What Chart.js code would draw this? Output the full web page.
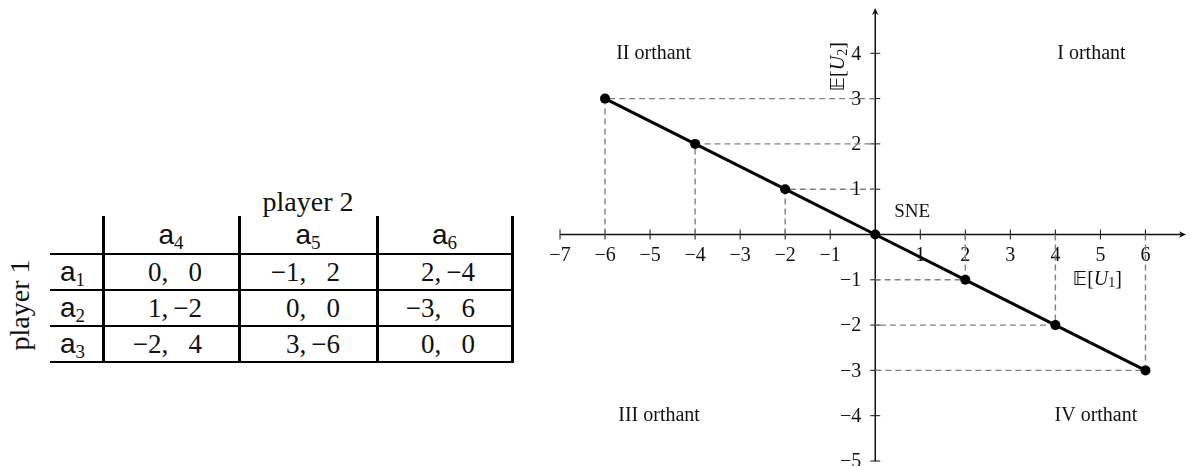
<!DOCTYPE html>
<html>
<head>
<meta charset="utf-8">
<script src="https://cdn.jsdelivr.net/npm/chart.js@4.4.1/dist/chart.umd.min.js"></script>
<style>
  html, body { margin: 0; padding: 0; background: #fff; overflow: hidden; }
  body { width: 1191px; height: 466px; position: relative; font-family: 'Liberation Serif', serif; color: #111; }
  .p2 { position: absolute; left: 208px; top: 184px; width: 200px; line-height: 36px; text-align: center; font-size: 28px; }
  .p1 { position: absolute; left: -80px; top: 287px; width: 200px; line-height: 36px; text-align: center; font-size: 28px; transform: rotate(-90deg); }
  .cell { position: absolute; white-space: nowrap; font-size: 27px; }
  .act { font-family: 'Liberation Sans', sans-serif; font-size: 28px; text-align: center; }
  .act sub { font-family: 'Liberation Serif', serif; font-size: 19px; vertical-align: -0.25em; line-height: 0; }
  .pay { text-align: right; box-sizing: border-box; padding-right: 37px; }
  .pay .v2 { display: inline-block; width: 1.25em; text-align: right; }
  .rule { position: absolute; background: #000; }
  #chartBox { position: absolute; left: 530px; top: 0; width: 661px; height: 466px; }
</style>
</head>
<body>
<div class="p2">player 2</div>
<div class="p1">player 1</div>
<div id="game"></div>
<div id="chartBox"><canvas id="chart"></canvas></div>
<script>
// ---- data ----
const rowActions = ['1', '2', '3'];
const colActions = ['4', '5', '6'];
const payoff1 = [[0, -1, 2], [1, 0, -3], [-2, 3, 0]];
const payoff2 = [[0, 2, -4], [-2, 0, 6], [4, -6, 0]];

const xValues = [-6, -4, -2, 0, 2, 4, 6];   // E[U1]
const yValues = [3, 2, 1, 0, -1, -2, -3];   // E[U2]
const xTicks = [-7, -6, -5, -4, -3, -2, -1, 1, 2, 3, 4, 5, 6];
const yTicks = [-5, -4, -3, -2, -1, 1, 2, 3, 4];
const orthantLabels = ['I orthant', 'II orthant', 'III orthant', 'IV orthant'];

// ---- layout ----
const COL_EDGES = [50, 103, 239, 377, 512];
const ROW_EDGES = [216, 254, 290, 326, 362];
const ORTHANT_AT = [[4.8, 4.0], [-4.92, 4.0], [-4.8, -4.0], [4.9, -4.0]];
const SNE_AT = [0.82, 0.5];
const EU1_AT = [4.93, -1.0];
const EU2_AT = [-0.8, 3.7];
const INK = '#111';
const SERIF = '"Liberation Serif", serif';

const fmt = v => String(v).replace('-', '\u2212');

// ---- payoff table ----
const game = document.getElementById('game');
function addDiv(cls, left, top, w, h, html) {
  const d = document.createElement('div');
  d.className = cls;
  Object.assign(d.style, { left: left + 'px', top: top + 'px', width: w + 'px', height: h + 'px', lineHeight: h + 'px' });
  if (html !== undefined) d.innerHTML = html;
  game.appendChild(d);
  return d;
}
colActions.forEach((a, j) => {
  addDiv('cell act', COL_EDGES[j + 1], ROW_EDGES[0], COL_EDGES[j + 2] - COL_EDGES[j + 1], ROW_EDGES[1] - ROW_EDGES[0], `a<sub>${a}</sub>`);
});
rowActions.forEach((a, i) => {
  const top = ROW_EDGES[i + 1], h = ROW_EDGES[i + 2] - top;
  const lab = addDiv('cell act', COL_EDGES[0], top, COL_EDGES[1] - COL_EDGES[0], h, `a<sub>${a}</sub>`);
  lab.style.paddingRight = '8px';
  lab.style.boxSizing = 'border-box';
  payoff1[i].forEach((p, j) => {
    addDiv('cell pay', COL_EDGES[j + 1], top, COL_EDGES[j + 2] - COL_EDGES[j + 1], h,
      `${fmt(p)},<span class="v2">${fmt(payoff2[i][j])}</span>`);
  });
});
ROW_EDGES.slice(1).forEach(yy => addDiv('rule', COL_EDGES[0], yy - 1, COL_EDGES[4] - COL_EDGES[0] + 1, 2));
COL_EDGES.slice(1).forEach(xx => addDiv('rule', xx - 1.5, ROW_EDGES[0], 3, ROW_EDGES[4] - ROW_EDGES[0] + 1));

// ---- chart ----
function drawExpect(ctx, idx, cx, cy, angle) {
  const parts = [
    { t: '\u{1D53C}[', f: `20px ${SERIF}, "DejaVu Sans"`, dy: 0 },
    { t: 'U', f: `italic 20px ${SERIF}`, dy: 0 },
    { t: idx, f: `14px ${SERIF}`, dy: 4 },
    { t: ']', f: `20px ${SERIF}`, dy: 0 },
  ];
  let w = 0;
  parts.forEach(p => { ctx.font = p.f; p.w = ctx.measureText(p.t).width; w += p.w; });
  ctx.save();
  ctx.translate(cx, cy);
  ctx.rotate(angle);
  ctx.textAlign = 'left';
  ctx.textBaseline = 'middle';
  let px = -w / 2;
  parts.forEach(p => { ctx.font = p.f; ctx.fillText(p.t, px, p.dy); px += p.w; });
  ctx.restore();
}

const crossAxes = {
  id: 'crossAxes',
  beforeDatasetsDraw(chart) {
    const { ctx, scales: { x, y } } = chart;
    const x0 = x.getPixelForValue(0), y0 = y.getPixelForValue(0);
    const xEnd = x.getPixelForValue(x.max), yEnd = y.getPixelForValue(y.max);
    ctx.save();
    ctx.strokeStyle = INK;
    ctx.fillStyle = INK;
    ctx.lineWidth = 1.5;
    ctx.beginPath();
    ctx.moveTo(x.getPixelForValue(x.min), y0); ctx.lineTo(xEnd - 3, y0);
    ctx.moveTo(x0, y.getPixelForValue(y.min)); ctx.lineTo(x0, yEnd + 3);
    ctx.stroke();
    // arrow heads
    ctx.beginPath();
    ctx.moveTo(xEnd, y0); ctx.lineTo(xEnd - 7, y0 - 3.2); ctx.lineTo(xEnd - 5, y0); ctx.lineTo(xEnd - 7, y0 + 3.2); ctx.closePath();
    ctx.moveTo(x0, yEnd); ctx.lineTo(x0 - 3.2, yEnd + 7); ctx.lineTo(x0, yEnd + 5); ctx.lineTo(x0 + 3.2, yEnd + 7); ctx.closePath();
    ctx.fill();
    // ticks
    ctx.lineWidth = 1;
    ctx.beginPath();
    xTicks.forEach(v => { const p = x.getPixelForValue(v); ctx.moveTo(p, y0 - 5); ctx.lineTo(p, y0 + 5); });
    yTicks.forEach(v => { const p = y.getPixelForValue(v); ctx.moveTo(x0 - 5, p); ctx.lineTo(x0 + 5, p); });
    ctx.stroke();
    // tick labels
    ctx.font = `20px ${SERIF}`;
    ctx.textBaseline = 'middle';
    ctx.textAlign = 'center';
    xTicks.forEach(v => ctx.fillText(fmt(v), x.getPixelForValue(v), y0 + 21));
    ctx.textAlign = 'right';
    yTicks.forEach(v => ctx.fillText(fmt(v), x0 - 14, y.getPixelForValue(v) + 1));
    // annotations
    ctx.textAlign = 'center';
    orthantLabels.forEach((t, i) => ctx.fillText(t, x.getPixelForValue(ORTHANT_AT[i][0]), y.getPixelForValue(ORTHANT_AT[i][1])));
    ctx.font = `19px ${SERIF}`;
    ctx.fillText('SNE', x.getPixelForValue(SNE_AT[0]), y.getPixelForValue(SNE_AT[1]));
    drawExpect(ctx, '1', x.getPixelForValue(EU1_AT[0]), y.getPixelForValue(EU1_AT[1]), 0);
    drawExpect(ctx, '2', x.getPixelForValue(EU2_AT[0]), y.getPixelForValue(EU2_AT[1]), -Math.PI / 2);
    ctx.restore();
  }
};

const mainSet = {
  data: xValues.map((xv, i) => ({ x: xv, y: yValues[i] })),
  showLine: true,
  borderColor: '#000',
  borderWidth: 3,
  pointRadius: 5,
  pointBorderWidth: 0,
  pointBackgroundColor: '#000',
};

// dashed projections of each point onto the axes
const guideSets = xValues
  .map((xv, i) => [xv, yValues[i]])
  .filter(([xv]) => xv !== 0)
  .map(([xv, yv]) => ({
    data: [{ x: xv, y: 0 }, { x: xv, y: yv }, { x: 0, y: yv }],
    showLine: true,
    borderColor: '#808080',
    borderWidth: 1.4,
    borderDash: [6, 4],
    pointRadius: 0,
  }));

new Chart(document.getElementById('chart'), {
  type: 'scatter',
  data: { datasets: [mainSet, ...guideSets] },
  options: {
    responsive: true,
    maintainAspectRatio: false,
    animation: false,
    events: [],
    layout: { padding: { left: 30, right: 1, top: 8, bottom: 5 } },
    plugins: { legend: { display: false }, tooltip: { enabled: false } },
    scales: {
      x: { type: 'linear', min: -7, max: 6.9, display: false },
      y: { type: 'linear', min: -5, max: 5, display: false },
    },
  },
  plugins: [crossAxes],
});
</script>
</body>
</html>
